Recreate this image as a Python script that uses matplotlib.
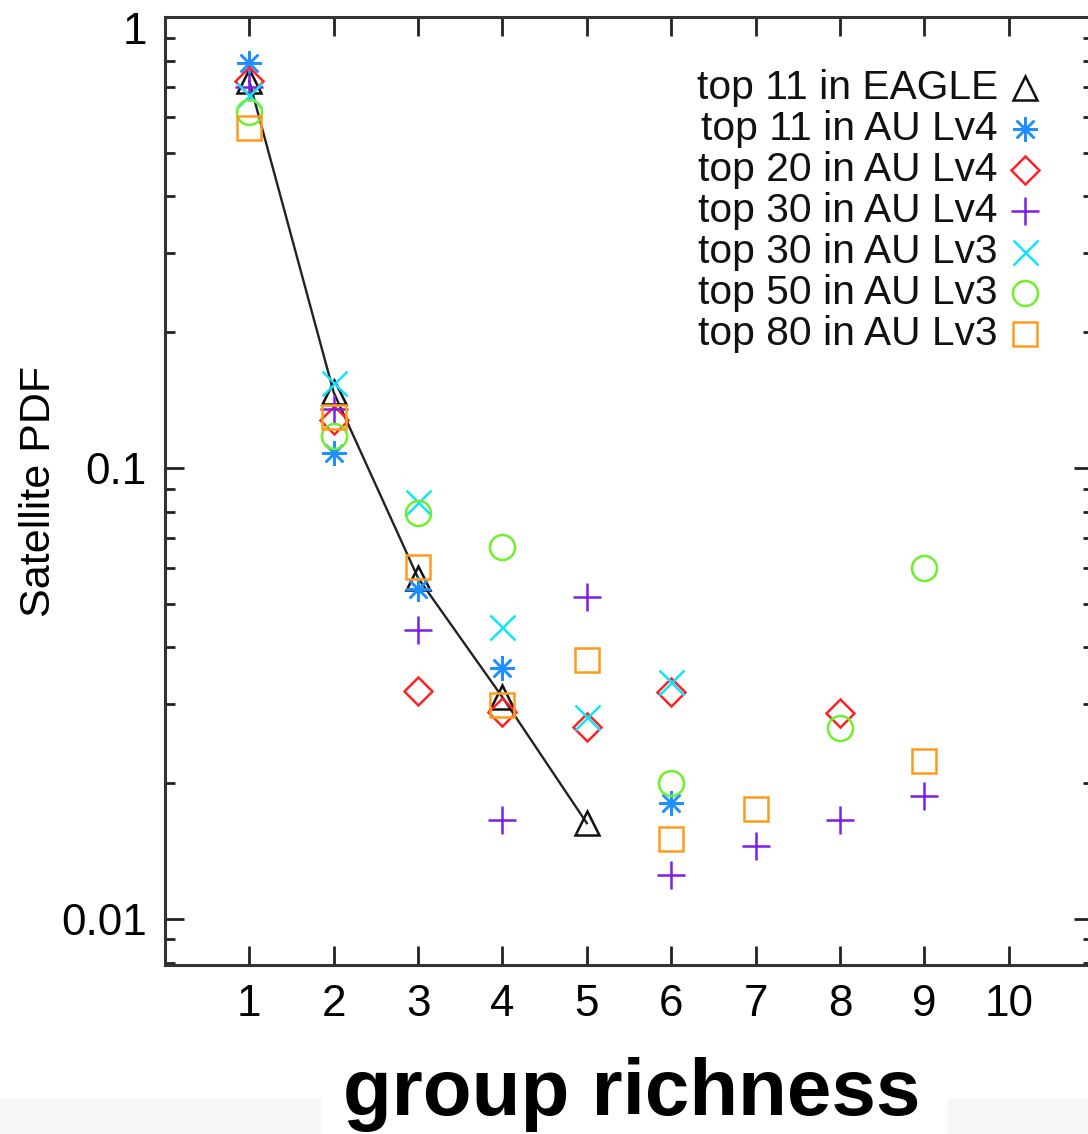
import numpy as np
import matplotlib
matplotlib.use('Agg')
import matplotlib.pyplot as plt
import matplotlib.transforms as mtransforms
from matplotlib.patches import Rectangle
from matplotlib.ticker import LogLocator, NullLocator, NullFormatter

plt.rcParams['font.family'] = ['Liberation Sans', 'DejaVu Sans']

# satellite PDF vs group richness
eagle_x = [1, 2, 3, 4, 5]
eagle_y = [0.72, 0.147, 0.057, 0.031, 0.0163]

lv4_11_x = [1, 2, 3, 4, 6]
lv4_11_y = [0.79, 0.108, 0.054, 0.036, 0.0181]

lv4_20_x = [1, 2, 3, 4, 5, 6, 8]
lv4_20_y = [0.72, 0.128, 0.032, 0.0288, 0.0266, 0.0318, 0.0286]

lv4_30_x = [1, 2, 3, 4, 5, 6, 7, 8, 9]
lv4_30_y = [0.70, 0.135, 0.0437, 0.0166, 0.0516, 0.0125, 0.0145, 0.0166, 0.0187]

lv3_30_x = [1, 2, 3, 4, 5, 6]
lv3_30_y = [0.67, 0.154, 0.084, 0.0443, 0.028, 0.0335]

lv3_50_x = [1, 2, 3, 4, 6, 8, 9]
lv3_50_y = [0.617, 0.118, 0.0796, 0.0667, 0.0200, 0.0265, 0.0599]

lv3_80_x = [1, 2, 3, 4, 5, 6, 7, 9]
lv3_80_y = [0.566, 0.130, 0.0602, 0.0298, 0.0375, 0.0150, 0.0175, 0.0224]

labels = ['top 11 in EAGLE', 'top 11 in AU Lv4', 'top 20 in AU Lv4',
          'top 30 in AU Lv4', 'top 30 in AU Lv3', 'top 50 in AU Lv3',
          'top 80 in AU Lv3']
xs = [eagle_x, lv4_11_x, lv4_20_x, lv4_30_x, lv3_30_x, lv3_50_x, lv3_80_x]
ys = [eagle_y, lv4_11_y, lv4_20_y, lv4_30_y, lv3_30_y, lv3_50_y, lv3_80_y]
markers = ['^', (8, 2, 0), 'D', '+', 'x', 'o', 's']
colors = ['#111111', '#1e8fff', '#ff2222', '#7a1fe6', '#10e4ff', '#6ef02c', '#ff9a1a']
sizes = [17, 18, 14, 20, 18, 18, 17]

W, H = 1088, 1134
fig = plt.figure(figsize=(W / 100, H / 100), dpi=100)
# axes spans x 0..11; right spine falls just outside the picture
ax = fig.add_axes([165 / W, (H - 965) / H, (1093 - 165) / W, (965 - 17) / H])

for i in range(len(labels)):
    ls = '-' if i == 0 else 'none'
    ax.plot(xs[i], ys[i], ls=ls, lw=1.7, color='#222222', marker=markers[i],
            ms=sizes[i], mfc='none', mec=colors[i], mew=1.8, zorder=3)

# gnuplot-style key: text right aligned, symbol on the right
ax_w, ax_h = 1093 - 165, 965 - 17
for i in range(len(labels)):
    yc = 88 + i * 41
    ax.text((998 - 165) / ax_w, (965 - yc - 11) / ax_h, labels[i],
            transform=ax.transAxes, ha='right', va='baseline',
            fontsize=29.3, color='#111111')
    ax.plot([(1025 - 165) / ax_w], [(965 - yc) / ax_h], transform=ax.transAxes,
            ls='none', marker=markers[i], ms=sizes[i], mfc='none',
            mec=colors[i], mew=1.8, clip_on=False)

ax.set_yscale('log')
ax.set_xlim(0, 11)
ax.set_ylim(0.0079, 1)

ax.set_xticks(range(1, 11))
ax.xaxis.set_minor_locator(NullLocator())
ax.set_yticks([0.01, 0.1, 1], labels=['0.01', '0.1', '1'])
ax.yaxis.set_minor_locator(LogLocator(base=10, subs=np.arange(2, 10)))
ax.yaxis.set_minor_formatter(NullFormatter())

ax.tick_params(which='major', direction='in', length=14, width=2,
               top=True, right=True, labelsize=31.7, color='#222222')
ax.tick_params(which='minor', direction='in', length=7, width=2,
               right=True, color='#222222')
ax.tick_params(axis='x', pad=14)
ax.tick_params(axis='y', pad=13)

# the "1" label sits a little below the top spine in the original
fig.canvas.draw()
for lab in ax.get_yticklabels():
    if lab.get_text() == '1':
        lab.set_transform(lab.get_transform() +
                          mtransforms.ScaledTranslation(0, -11 / 100, fig.dpi_scale_trans))

for s in ax.spines.values():
    s.set_linewidth(2.2)
    s.set_color('#333333')

fig.text(39 / W, 1 - 491 / H, 'Satellite PDF', rotation=90, ha='center',
         va='center', fontsize=31)

# faint grey strip at the bottom edge
fig.add_artist(Rectangle((0, 0), 320 / W, 36 / H, transform=fig.transFigure,
                         color='#f7f7f7', zorder=0))
fig.add_artist(Rectangle((948 / W, 0), (W - 948) / W, 36 / H,
                         transform=fig.transFigure, color='#f7f7f7', zorder=0))

fig.text(632 / W, (H - 1115) / H, 'group richness', fontsize=57.5,
         fontweight='bold', ha='center', va='baseline')

fig.savefig('out.png', dpi=100)
